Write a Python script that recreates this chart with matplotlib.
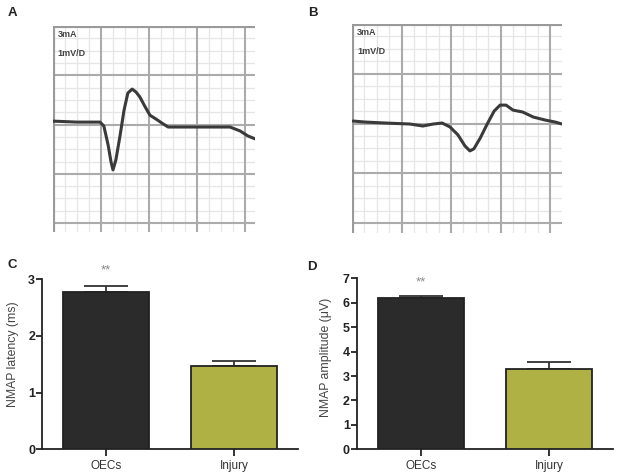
import matplotlib
matplotlib.use("Agg")
import matplotlib.pyplot as plt
import numpy as np

plt.rcParams['font.family'] = ['Liberation Sans', 'DejaVu Sans']

# ---- Data ----
# Trace A (grid divisions: time, voltage)
trace_a_t = [0.0, 0.5, 0.98, 1.06, 1.15, 1.21, 1.25, 1.31, 1.40, 1.48, 1.56, 1.65,
             1.73, 1.81, 1.92, 2.02, 2.15, 2.27, 2.40, 3.0, 3.69, 3.90, 4.06, 4.21]
trace_a_v = [2.07, 2.05, 2.05, 1.97, 1.58, 1.24, 1.08, 1.28, 1.79, 2.29, 2.64, 2.72,
             2.66, 2.56, 2.36, 2.19, 2.11, 2.03, 1.95, 1.95, 1.95, 1.87, 1.77, 1.71]
# Trace B
trace_b_t = [0.02, 0.26, 0.67, 1.17, 1.43, 1.64, 1.82, 1.98, 2.14, 2.28, 2.38, 2.46,
             2.59, 2.73, 2.87, 2.99, 3.11, 3.25, 3.45, 3.66, 3.90, 4.10, 4.24]
trace_b_v = [2.05, 2.03, 2.01, 1.99, 1.95, 1.99, 2.01, 1.93, 1.77, 1.55, 1.45, 1.49,
             1.71, 1.99, 2.25, 2.37, 2.37, 2.27, 2.23, 2.13, 2.07, 2.03, 1.99]

groups = ["OECs", "Injury"]
latency_mean = [2.77, 1.47]
latency_err = [0.11, 0.08]
amplitude_mean = [6.21, 3.28]
amplitude_err = [0.08, 0.30]

W, H = 617, 474
fig = plt.figure(figsize=(W / 100, H / 100), dpi=100)


def px_axes(x0, y0, x1, y1):
    return fig.add_axes([x0 / W, 1 - y1 / H, (x1 - x0) / W, (y1 - y0) / H])


def trace_panel(rect, xmax, ymin, t, v):
    ax = px_axes(*rect)
    ax.set_xlim(0, xmax)
    ax.set_ylim(ymin, 4)
    for s in ax.spines.values():
        s.set_visible(False)
    ax.set_xticks([])
    ax.set_yticks([])
    for q in np.arange(0, xmax, 0.25):
        if abs(q - round(q)) > 1e-6:
            ax.axvline(q, color='#e6e6e6', lw=0.9, zorder=1)
    for q in np.arange(4, ymin - 0.01, -0.25):
        if abs(q - round(q)) > 1e-6:
            ax.axhline(q, color='#e6e6e6', lw=0.9, zorder=1)
    for q in range(1, int(xmax) + 1):
        ax.axvline(q, color='#ababab', lw=1.5, zorder=2)
    for q in range(0, 4):
        ax.axhline(q, color='#ababab', lw=1.5, zorder=2)
    ax.axvline(0.0, color='#9a9a9a', lw=3.0, zorder=3)
    ax.axhline(4.0, color='#9a9a9a', lw=3.0, zorder=3)
    ax.plot(t, v, color='#3a3a3a', lw=2.2, zorder=5, solid_capstyle='round')
    ax.text(0.1, 3.82, "3mA", fontsize=6.5, color='#444444', fontweight='bold', va='center')
    ax.text(0.1, 3.45, "1mV/D", fontsize=6.5, color='#444444', fontweight='bold', va='center')
    return ax


trace_panel((53, 26, 255, 232), 4.21, -0.18, trace_a_t, trace_a_v)
trace_panel((352, 24, 562, 233), 4.24, -0.2, trace_b_t, trace_b_v)

colors = ['#2b2b2b', '#afb145']


def bar_panel(rect, ymax, means, errs, ylabel, label_y):
    ax = px_axes(*rect)
    x = np.arange(len(groups))
    ax.bar(x, means, width=0.67, color=colors, edgecolor='#222222', lw=1.3, zorder=3)
    for xi, m, e in zip(x, means, errs):
        ax.errorbar(xi, m, yerr=[[0], [e]], color='#333333', lw=1.3, capsize=16,
                    capthick=1.3, zorder=2)
    ax.set_xlim(-0.5, 1.5)
    ax.set_ylim(0, ymax)
    ax.set_yticks(range(0, ymax + 1))
    ax.set_xticks(x)
    ax.set_xticklabels(groups, fontsize=8.5, color='#333333')
    for lab in ax.get_yticklabels():
        lab.set_fontweight('bold')
        lab.set_fontsize(9)
        lab.set_color('#222222')
    ax.tick_params(axis='y', direction='out', length=4, width=1.3, color='#222222', pad=1)
    ax.tick_params(axis='x', direction='out', length=5, width=1.3, color='#222222', pad=3)
    ax.spines['top'].set_visible(False)
    ax.spines['right'].set_visible(False)
    ax.spines['left'].set_linewidth(1.3)
    ax.spines['bottom'].set_linewidth(1.3)
    ax.spines['left'].set_color('#222222')
    ax.spines['bottom'].set_color('#222222')
    ax.set_ylabel(ylabel, fontsize=8.8, color='#444444')
    ax.yaxis.set_label_coords(label_y[0], label_y[1])
    return ax


axC = bar_panel((42, 279, 298, 449.3), 3, latency_mean, latency_err, "NMAP latency (ms)",
                (-0.09, 0.56))
axC.text(0, latency_mean[0] + latency_err[0] + 0.27, "**", ha='center', va='center',
         fontsize=9.5, color='#888888')
axD = bar_panel((356.7, 278.3, 613, 449.3), 7, amplitude_mean, amplitude_err,
                "NMAP amplitude (\u03bcV)", (-0.096, 0.54))
axD.text(0, amplitude_mean[0] + amplitude_err[0] + 0.55, "**", ha='center', va='center',
         fontsize=9.5, color='#888888')

for lbl, (x, y) in zip("ABCD", [(8, 13), (308, 13), (7, 265), (307, 267)]):
    fig.text(x / W, 1 - y / H, lbl, fontsize=9.5, fontweight='bold', color='#222222',
             va='center', ha='left')

fig.savefig("out.png", dpi=100)
